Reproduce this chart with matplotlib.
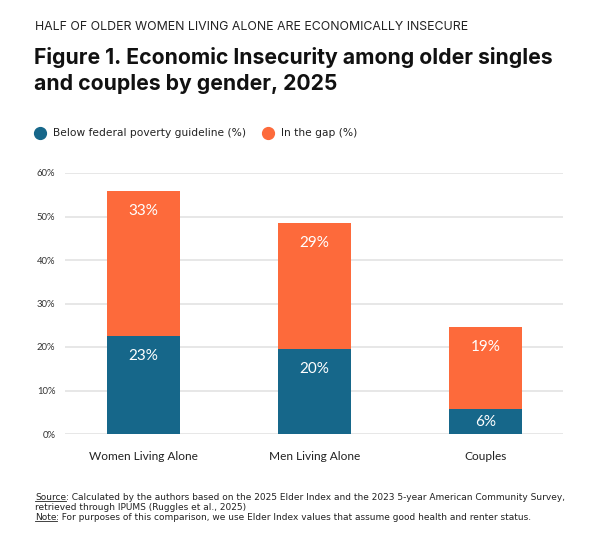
import numpy as np
import matplotlib.pyplot as plt
from matplotlib.lines import Line2D

categories = ["Women Living Alone", "Men Living Alone", "Couples"]
below_poverty = [22.6, 19.6, 5.7]   # % below federal poverty guideline
in_gap = [33.3, 29.0, 18.9]          # % in the gap
series_names = ["Below federal poverty guideline (%)", "In the gap (%)"]
yticks = [0, 10, 20, 30, 40, 50, 60]

blue = "#16678a"
orange = "#fd6a3b"
W, H = 612, 543

def fx(px):
    return px / W

def fy(py):
    return 1 - py / H

fig = plt.figure(figsize=(W / 100, H / 100), dpi=100)
fig.patch.set_facecolor("white")

# headings
fig.text(fx(35), fy(27), "HALF OF OLDER WOMEN LIVING ALONE ARE ECONOMICALLY INSECURE",
         family="Inter", fontsize=8.9, color="#222222", va="center", ha="left")
fig.text(fx(34), fy(58), "Figure 1. Economic Insecurity among older singles",
         family="Inter", fontsize=15.25, weight="bold", color="#111111", va="center", ha="left")
fig.text(fx(34), fy(84), "and couples by gender, 2025",
         family="Inter", fontsize=15.25, weight="bold", color="#111111", va="center", ha="left")

# legend
for name, col, x0 in zip(series_names, [blue, orange], [40, 268]):
    fig.add_artist(Line2D([fx(x0)], [fy(133)], marker="o", markersize=8.5,
                          color=col, linestyle="none", transform=fig.transFigure))
    fig.text(fx(x0 + 13), fy(133), name, family="DejaVu Sans", fontsize=7.7,
             color="#222222", va="center", ha="left")

# chart
ax = fig.add_axes([fx(65), fy(434), (563 - 65) / W, (434 - 173) / H])
x = np.arange(len(categories))
width = 0.43
ax.bar(x, below_poverty, width, color=blue, zorder=3)
ax.bar(x, in_gap, width, bottom=below_poverty, color=orange, zorder=3)

ppd = (434 - 173) / 60.0  # pixels per percent
off = 20 / ppd
for i in range(len(categories)):
    b = below_poverty[i]
    g = in_gap[i]
    yb = b - off if b > 2 * off else b / 2
    yg = b + g - off if g > 2 * off else b + g / 2
    ax.text(x[i], yb, "%d%%" % round(b), ha="center", va="center", color="white",
            fontsize=11, family="Lato", zorder=4)
    ax.text(x[i], yg, "%d%%" % round(g), ha="center", va="center", color="white",
            fontsize=11, family="Lato", zorder=4)

ax.set_xlim(-0.459, 2.453)
ax.set_ylim(0, 60)
ax.set_yticks(yticks)
ax.set_yticklabels(["%d%%" % t for t in yticks], family="Lato", fontsize=6.8, color="#333333")
ax.set_xticks(x)
ax.set_xticklabels(categories, family="Lato", fontsize=8.6, color="#222222")
ax.tick_params(axis="y", length=0, pad=7)
ax.tick_params(axis="x", length=0, pad=12)
ax.grid(axis="y", color="#e3e3e3", linewidth=1.2, zorder=0)
for s in ax.spines.values():
    s.set_visible(False)

# footnotes
notes = [("Source", ": Calculated by the authors based on the 2025 Elder Index and the 2023 5-year American Community Survey,", 497),
         (None, "retrieved through IPUMS (Ruggles et al., 2025)", 507),
         ("Note", ": For purposes of this comparison, we use Elder Index values that assume good health and renter status.", 517)]
fig.canvas.draw()
r = fig.canvas.get_renderer()
for head, rest, py in notes:
    x0 = fx(35)
    if head:
        t = fig.text(x0, fy(py), head, family="DejaVu Sans", fontsize=6.45,
                     color="#222222", va="center", ha="left")
        bb = t.get_window_extent(r).transformed(fig.transFigure.inverted())
        fig.add_artist(Line2D([bb.x0, bb.x1], [bb.y0 + 0.001, bb.y0 + 0.001],
                              color="#222222", linewidth=0.6, transform=fig.transFigure))
        x0 = bb.x1
    fig.text(x0, fy(py), rest, family="DejaVu Sans", fontsize=6.45,
             color="#222222", va="center", ha="left")

fig.savefig("out.png", dpi=100)
